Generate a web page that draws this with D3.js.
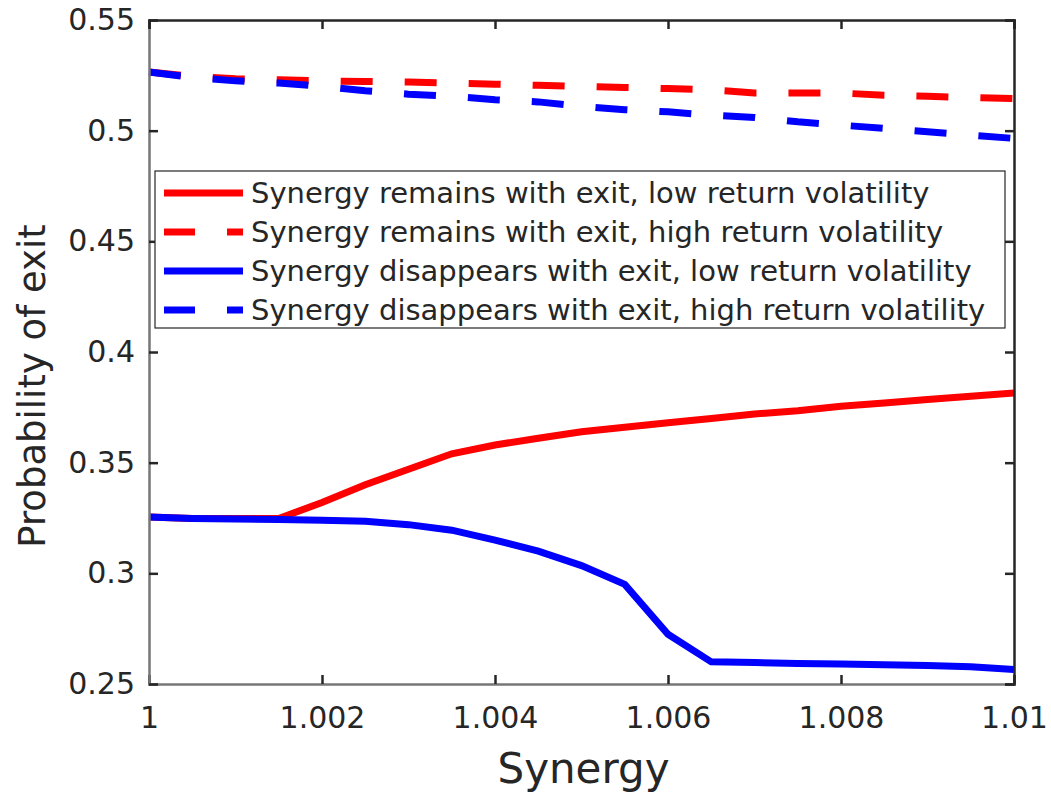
<!DOCTYPE html>
<head>
  <meta charset="utf-8">
  <script src="https://d3js.org/d3.v7.min.js"></script>
  <style>
    body { margin: 0; background: #fff; }
    svg { display: block; }
    text { font-family: "DejaVu Sans", Verdana, sans-serif; fill: #262626; }
  </style>
</head>
<body>
  <svg width="1051" height="796"></svg>
  <script>
    var synergy = [1, 1.0005, 1.001, 1.0015, 1.002, 1.0025, 1.003, 1.0035, 1.004, 1.0045, 1.005,
      1.0055, 1.006, 1.0065, 1.007, 1.0075, 1.008, 1.0085, 1.009, 1.0095, 1.01];
    var remainsLow = [0.3255, 0.3248, 0.3248, 0.3248, 0.332, 0.340, 0.347, 0.354, 0.358, 0.361, 0.364,
      0.366, 0.368, 0.370, 0.372, 0.3735, 0.3755, 0.377, 0.3785, 0.380, 0.3815];
    var remainsHigh = [0.5265, 0.5245, 0.5235, 0.523, 0.5225, 0.5222, 0.522, 0.5215, 0.521, 0.5205, 0.520,
      0.5195, 0.519, 0.5185, 0.517, 0.517, 0.517, 0.516, 0.5155, 0.515, 0.5145];
    var disappearsLow = [0.3255, 0.3248, 0.3245, 0.3243, 0.324, 0.3235, 0.322, 0.3195, 0.315, 0.310, 0.3035,
      0.295, 0.2725, 0.260, 0.2597, 0.2593, 0.259, 0.2587, 0.2584, 0.2578, 0.2565];
    var disappearsHigh = [0.5265, 0.524, 0.5225, 0.5215, 0.520, 0.518, 0.5165, 0.5155, 0.514, 0.513, 0.511,
      0.5095, 0.5085, 0.507, 0.506, 0.504, 0.5025, 0.501, 0.4995, 0.498, 0.4965];
    var xTicks = [1, 1.002, 1.004, 1.006, 1.008, 1.01];
    var yTicks = [0.25, 0.3, 0.35, 0.4, 0.45, 0.5, 0.55];

    var series = [
      { name: 'Synergy remains with exit, low return volatility', values: remainsLow, color: '#ff0000', dash: null },
      { name: 'Synergy remains with exit, high return volatility', values: remainsHigh, color: '#ff0000', dash: '32,32' },
      { name: 'Synergy disappears with exit, low return volatility', values: disappearsLow, color: '#0000ff', dash: null },
      { name: 'Synergy disappears with exit, high return volatility', values: disappearsHigh, color: '#0000ff', dash: '32,32' }
    ];

    var margin = { top: 20, right: 37, bottom: 112, left: 149 };
    var width = 1051, height = 796;
    var svg = d3.select('svg');

    var x = d3.scaleLinear().domain([1, 1.01]).range([margin.left, width - margin.right]);
    var y = d3.scaleLinear().domain([0.25, 0.55]).range([height - margin.bottom, margin.top]);

    var line = d3.line()
      .x(function (d, i) { return x(synergy[i]); })
      .y(function (d) { return y(d); });

    // data lines (blue drawn over red where they overlap)
    var order = [1, 3, 0, 2];
    order.forEach(function (k) {
      var s = series[k];
      svg.append('path')
        .attr('d', line(s.values))
        .attr('fill', 'none')
        .attr('stroke', s.color)
        .attr('stroke-width', 7)
        .attr('stroke-dasharray', s.dash);
    });

    // axes, box with ticks on all four sides
    var tickLen = 9;
    var xAxis = d3.axisBottom(x).tickValues(xTicks).tickSize(-tickLen).tickPadding(23)
      .tickFormat(function (d) { return d === 1 ? '1' : d3.format('.3~f')(d); });
    var yAxis = d3.axisLeft(y).tickValues(yTicks).tickSize(-tickLen).tickPadding(14)
      .tickFormat(function (d) { return d3.format('.2~f')(d); });

    var gx = svg.append('g').attr('transform', 'translate(0,' + y(0.25) + ')').call(xAxis);
    var gy = svg.append('g').attr('transform', 'translate(' + x(1) + ',0)').call(yAxis);
    svg.append('g').attr('transform', 'translate(0,' + y(0.55) + ')')
      .call(d3.axisTop(x).tickValues(xTicks).tickSize(-tickLen).tickFormat(''));
    svg.append('g').attr('transform', 'translate(' + x(1.01) + ',0)')
      .call(d3.axisRight(y).tickValues(yTicks).tickSize(-tickLen).tickFormat(''));

    svg.selectAll('.domain').attr('stroke', '#262626').attr('stroke-width', 2.5);
    svg.selectAll('.tick line').attr('stroke', '#262626').attr('stroke-width', 2.5);
    gx.selectAll('text').style('font-size', '30px').attr('fill', '#262626');
    gy.selectAll('text').style('font-size', '30px').attr('fill', '#262626');
    gx.select('.domain').attr('stroke', '#777');
    gy.select('.domain').attr('stroke', '#777');

    // axis titles
    svg.append('text')
      .attr('x', (x(1) + x(1.01)) / 2 + 2)
      .attr('y', 783)
      .attr('text-anchor', 'middle')
      .style('font-size', '42px')
      .text('Synergy');
    svg.append('text')
      .attr('transform', 'translate(45,386) rotate(-90)')
      .attr('text-anchor', 'middle')
      .style('font-size', '37px')
      .text('Probability of exit');

    // legend
    var legend = svg.append('g');
    legend.append('rect')
      .attr('x', 155).attr('y', 171).attr('width', 850).attr('height', 157)
      .attr('fill', '#fff').attr('stroke', '#262626').attr('stroke-width', 1.2);
    series.forEach(function (s, i) {
      var cy = 193 + i * 39;
      legend.append('line')
        .attr('x1', 164).attr('x2', 243).attr('y1', cy).attr('y2', cy)
        .attr('stroke', s.color).attr('stroke-width', 7)
        .attr('stroke-dasharray', s.dash ? '31,32' : null);
      legend.append('text')
        .attr('x', 251).attr('y', cy + 10)
        .style('font-size', '29px')
        .attr('fill', '#000')
        .text(s.name);
    });
  </script>
</body>
